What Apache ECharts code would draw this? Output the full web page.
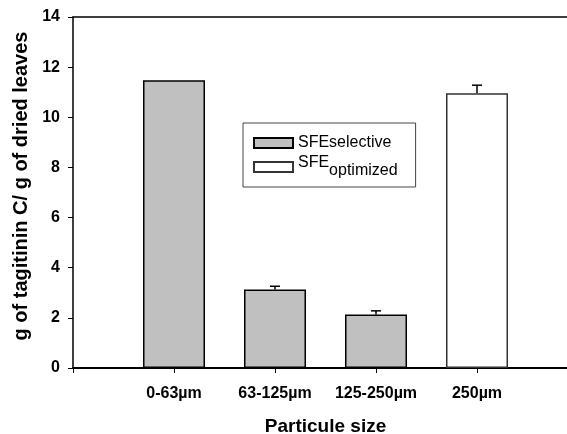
<!DOCTYPE html>
<html lang="en">
<head>
  <meta charset="UTF-8">
  <title>Particule size</title>
  <style>
    html, body { margin: 0; padding: 0; background: #fff; }
  </style>
</head>
<body>
  <div id="main" style="width:567px;height:434px;"></div>

  <script src="https://cdn.jsdelivr.net/npm/echarts@6/dist/echarts.min.js"></script>
  <script>
    var categories = ['0-63µm', '63-125µm', '125-250µm', '250µm']
    var selective = [11.48, 3.13, 2.13, null]
    var optimized = [null, null, null, 10.96]
    var errors = [0, 0.13, 0.15, 0.32]
    var yTicks = [0, 2, 4, 6, 8, 10, 12, 14]

    var font = 'Liberation Sans, Arial, sans-serif'
    var myChart = echarts.init(document.getElementById('main'))

    // bars sit at x = 1..4 on a value axis (0..5), like the original plot
    function toPairs(arr) {
      var out = []
      arr.forEach(function (v, i) { if (v != null) out.push([i + 1, v]) })
      return out
    }
    var tops = categories.map(function (c, i) {
      var v = selective[i] != null ? selective[i] : optimized[i]
      return [i + 1, v, errors[i]]
    })

    var options = {
      animation: false,
      textStyle: { fontFamily: font },
      grid: { left: 73, width: 505, top: 17, height: 351, outerBoundsMode: 'none' },
      legend: {
        orient: 'vertical',
        left: 243,
        top: 123,
        padding: [12, 18, 8, 10],
        itemGap: 4,
        itemWidth: 39,
        itemHeight: 10,
        borderColor: '#444',
        borderWidth: 1,
        icon: 'rect',
        data: ['SFEselective', 'SFEoptimized'],
        formatter: function (name) {
          if (name === 'SFEoptimized') return '{n|SFE}{s|optimized}'
          return '{n|SFEselective}'
        },
        textStyle: {
          color: '#000',
          fontSize: 16,
          fontFamily: font,
          rich: {
            n: { fontSize: 16, fontFamily: font, color: '#000', verticalAlign: 'top' },
            s: { fontSize: 16, fontFamily: font, color: '#000', padding: [8, 0, 0, 0] }
          }
        }
      },
      xAxis: [
        {
          type: 'value',
          min: 0,
          max: 5,
          interval: 1,
          position: 'bottom',
          splitLine: { show: false },
          axisLine: { lineStyle: { color: '#000', width: 2 } },
          axisTick: { show: true, length: 5, inside: false, lineStyle: { color: '#000' } },
          axisLabel: {
            color: '#000', fontWeight: 'bold', fontSize: 16, margin: 18,
            formatter: function (v) { return categories[v - 1] || '' }
          },
          name: 'Particule size',
          nameLocation: 'middle',
          nameGap: 49,
          nameTextStyle: { color: '#000', fontWeight: 'bold', fontSize: 19, fontFamily: font }
        },
        {
          type: 'value',
          min: 0,
          max: 5,
          position: 'top',
          splitLine: { show: false },
          axisLine: { show: true, lineStyle: { color: '#000', width: 1.5 } },
          axisTick: { show: false },
          axisLabel: { show: false }
        }
      ],
      yAxis: {
        type: 'value',
        min: 0,
        max: 14,
        interval: 2,
        splitLine: { show: false },
        axisLine: { show: true, lineStyle: { color: '#000', width: 1.5 } },
        axisTick: { show: true, length: 5, lineStyle: { color: '#000' } },
        axisLabel: {
          color: '#000', fontWeight: 'bold', fontSize: 16, margin: 13,
          formatter: function (v) { return yTicks.indexOf(v) >= 0 ? String(v) : '' }
        },
        name: 'g of tagitinin C/ g of dried leaves',
        nameLocation: 'middle',
        nameGap: 41,
        nameTextStyle: { color: '#000', fontWeight: 'bold', fontSize: 20, fontFamily: font, padding: [0, 0, 0, 13] }
      },
      series: [
        {
          name: 'SFEselective',
          type: 'bar',
          data: toPairs(selective),
          barWidth: 62,
          barGap: '-100%',
          itemStyle: { color: '#c0c0c0', borderColor: '#000', borderWidth: 1.5 }
        },
        {
          name: 'SFEoptimized',
          type: 'bar',
          data: toPairs(optimized),
          barWidth: 62,
          barGap: '-100%',
          itemStyle: { color: '#fff', borderColor: '#333', borderWidth: 1.5 }
        },
        {
          name: 'error',
          type: 'custom',
          data: tops,
          z: 5,
          renderItem: function (params, api) {
            var x = api.value(0), y = api.value(1), e = api.value(2)
            if (!e) return null
            var p0 = api.coord([x, y])
            var p1 = api.coord([x, y + e])
            return {
              type: 'group',
              children: [
                { type: 'line', shape: { x1: p0[0], y1: p0[1], x2: p1[0], y2: p1[1] }, style: { stroke: '#000', lineWidth: 1.5 } },
                { type: 'line', shape: { x1: p1[0] - 5, y1: p1[1], x2: p1[0] + 5, y2: p1[1] }, style: { stroke: '#000', lineWidth: 1.5 } }
              ]
            }
          }
        }
      ]
    }
    myChart.setOption(options)
  </script>
</body>
</html>
